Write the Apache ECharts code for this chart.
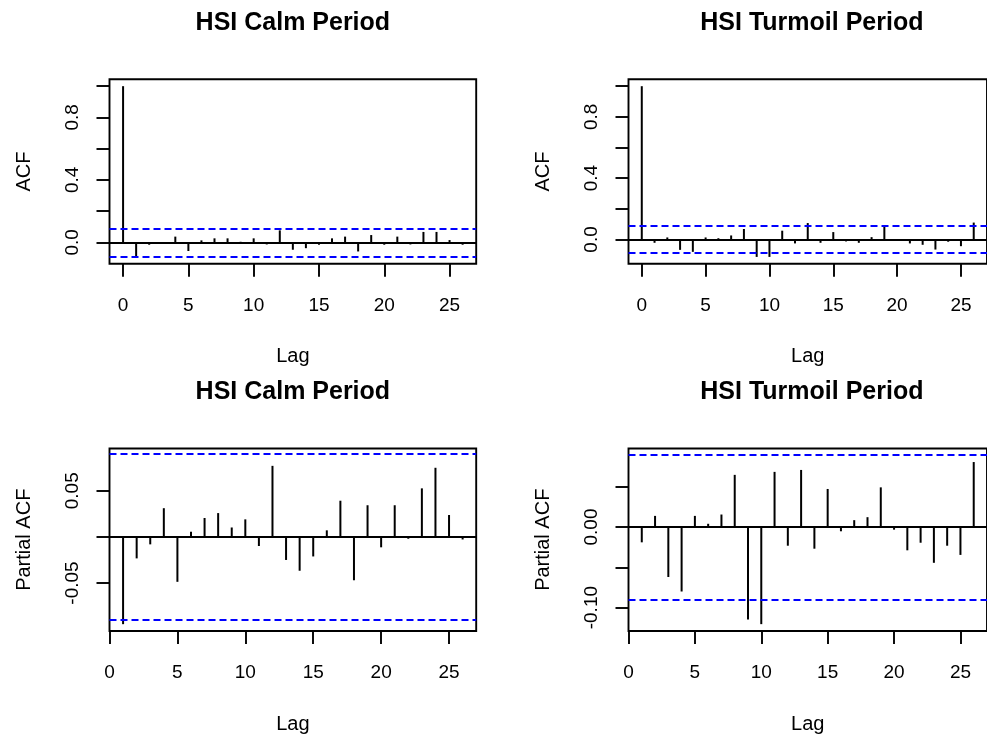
<!DOCTYPE html>
<html><head><meta charset="utf-8">
<script src="https://cdn.jsdelivr.net/npm/echarts@6/dist/echarts.min.js"></script>
<style>html,body{margin:0;padding:0;background:#fff}#c{width:987px;height:735px}</style>
</head><body><div id="c"></div>
<script>
// ---- data ----
const lagsAcf = [0,1,2,3,4,5,6,7,8,9,10,11,12,13,14,15,16,17,18,19,20,21,22,23,24,25,26];
const lagsPacf = [1,2,3,4,5,6,7,8,9,10,11,12,13,14,15,16,17,18,19,20,21,22,23,24,25,26];
const calmAcf = [1.0,-0.088,-0.015,-0.004,0.037,-0.055,0.013,0.026,0.026,0.004,0.026,-0.013,0.077,-0.047,-0.037,-0.015,0.026,0.037,-0.058,0.047,-0.015,0.037,-0.013,0.067,0.067,0.015,-0.015];
const turmoilAcf = [1.0,-0.022,0.013,-0.068,-0.081,0.013,0.008,0.026,0.068,-0.114,-0.114,0.057,-0.026,0.107,-0.022,0.048,-0.013,-0.022,0.015,0.085,-0.003,-0.026,-0.035,-0.066,-0.015,-0.044,0.110];
const calmPacf = [-0.0946,-0.0233,-0.0081,0.0311,-0.0487,0.0056,0.0205,0.0258,0.0102,0.0190,-0.0099,0.0770,-0.0250,-0.0367,-0.0212,0.0071,0.0392,-0.0470,0.0343,-0.0113,0.0343,-0.0020,0.0526,0.0749,0.0237,-0.0028];
const turmoilPacf = [-0.0190,0.0138,-0.0620,-0.0800,0.0138,0.0040,0.0155,0.0647,-0.1148,-0.1205,0.0684,-0.0232,0.0708,-0.0269,0.0472,-0.0053,0.0085,0.0122,0.0492,-0.0033,-0.0289,-0.0195,-0.0444,-0.0232,-0.0346,0.0806];
const confLimits = [0.092, 0.087, 0.0885, 0.089];
const titles = ['HSI Calm Period','HSI Turmoil Period','HSI Calm Period','HSI Turmoil Period'];
const yNames = ['ACF','ACF','Partial ACF','Partial ACF'];
const xName = 'Lag';
const xTickValues = [0,5,10,15,20,25];
const acfTickValues = [0,0.2,0.4,0.6,0.8,1.0];
const acfLabelValues = [0,0.4,0.8];
const calmPacfTickValues = [-0.05,0,0.05];
const calmPacfLabelValues = [-0.05,0.05];
const turmoilPacfTickValues = [-0.10,-0.05,0,0.05];
const turmoilPacfLabelValues = [-0.10,0];

// ---- layout ----
const FONT = 'Liberation Sans, Arial, sans-serif';
const panels = [
  {left:109.5, top:79.3, lags:lagsAcf, vals:calmAcf, xmin:-1.04, xmax:27.04, ymin:-0.137, ymax:1.044, ticks:acfTickValues, labels:acfLabelValues, dec:1},
  {left:628.5, top:79.3, lags:lagsAcf, vals:turmoilAcf, xmin:-1.04, xmax:27.04, ymin:-0.159, ymax:1.045, ticks:acfTickValues, labels:acfLabelValues, dec:1},
  {left:109.5, top:448.5, lags:lagsPacf, vals:calmPacf, xmin:0, xmax:27, ymin:-0.102, ymax:0.0958, ticks:calmPacfTickValues, labels:calmPacfLabelValues, dec:2},
  {left:628.5, top:448.5, lags:lagsPacf, vals:turmoilPacf, xmin:0, xmax:27, ymin:-0.129, ymax:0.0974, ticks:turmoilPacfTickValues, labels:turmoilPacfLabelValues, dec:2}
];
const W = 366.7, H = 184.5;
const LW = 1.9;

const option = {animation:false, backgroundColor:'#fff', title:[], grid:[], xAxis:[], yAxis:[], series:[]};
panels.forEach((p,i)=>{
  option.title.push({text:titles[i], left:p.left + W/2, top:p.top - 68.8, textAlign:'center', padding:0,
    textStyle:{fontFamily:FONT, fontSize:25, fontWeight:'bold', color:'#000'}});
  option.grid.push({left:p.left, top:p.top, width:W, height:H, show:true, borderColor:'#000', borderWidth:LW, backgroundColor:'transparent', containLabel:false});
  option.xAxis.push({type:'value', gridIndex:i, min:p.xmin, max:p.xmax, position:'bottom',
    name:xName, nameLocation:'middle', nameGap:83, nameTextStyle:{fontFamily:FONT, fontSize:20, color:'#000'},
    axisLine:{show:false, onZero:false}, splitLine:{show:false},
    axisTick:{show:true, inside:false, length:13, lineStyle:{color:'#000', width:LW}, customValues:xTickValues},
    axisLabel:{margin:32, fontFamily:FONT, fontSize:19, color:'#000', customValues:xTickValues}});
  option.yAxis.push({type:'value', gridIndex:i, min:p.ymin, max:p.ymax, position:'left',
    name:yNames[i], nameLocation:'middle', nameGap:75, nameTextStyle:{fontFamily:FONT, fontSize:20, color:'#000'},
    axisLine:{show:false, onZero:false}, splitLine:{show:false},
    axisTick:{show:true, inside:false, length:13, lineStyle:{color:'#000', width:LW}, customValues:p.ticks},
    axisLabel:{margin:27, rotate:90, fontFamily:FONT, fontSize:19, color:'#000', customValues:p.labels,
      formatter:(v)=>Number(v).toFixed(p.dec)}});
  const cl = confLimits[i];
  option.series.push({type:'bar', xAxisIndex:i, yAxisIndex:i, barWidth:2, silent:true,
    itemStyle:{color:'#000'}, data:p.lags.map((l,k)=>[l,p.vals[k]]),
    markLine:{silent:true, symbol:'none', label:{show:false}, animation:false,
      data:[
        {yAxis:0, lineStyle:{color:'#000', width:LW, type:'solid'}},
        {yAxis:cl, lineStyle:{color:'#0000ff', width:2, type:[7,4]}},
        {yAxis:-cl, lineStyle:{color:'#0000ff', width:2, type:[7,4]}}
      ]}});
});
const chart = echarts.init(document.getElementById('c'), null, {renderer:'canvas'});
chart.setOption(option);
</script>
</body></html>
